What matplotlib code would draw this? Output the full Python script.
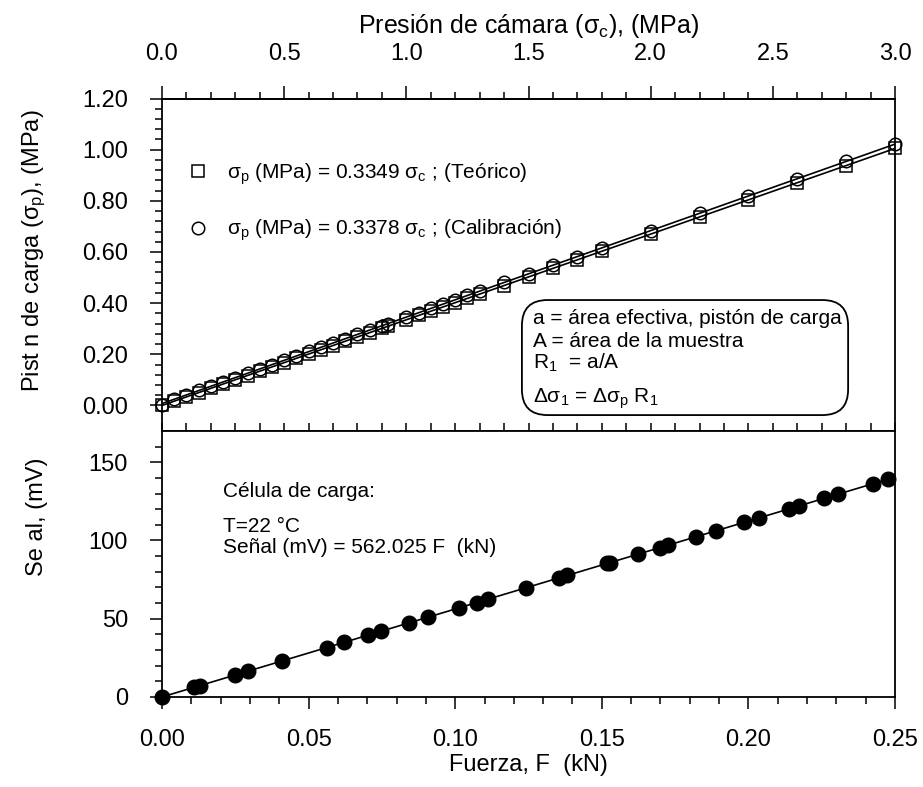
import matplotlib.pyplot as plt
import numpy as np
from matplotlib.patches import FancyBboxPatch
from matplotlib.ticker import MultipleLocator, FixedLocator, FormatStrFormatter

plt.rcParams['font.family'] = ['Liberation Sans', 'DejaVu Sans']
plt.rcParams['mathtext.default'] = 'regular'

# presion de camara (MPa)
sigma_c = np.array([0.0, 0.05, 0.10, 0.15, 0.20, 0.25, 0.30, 0.35, 0.40, 0.45,
                    0.50, 0.55, 0.60, 0.65, 0.70, 0.75, 0.80, 0.85, 0.90, 0.925,
                    1.00, 1.05, 1.10, 1.15, 1.20, 1.25, 1.30, 1.40, 1.50, 1.60,
                    1.70, 1.80, 2.00, 2.20, 2.40, 2.60, 2.80, 3.00])
# piston de carga, teorico
sigma_p_teo = np.array([0.000, 0.017, 0.034, 0.050, 0.067, 0.084, 0.100, 0.117, 0.134, 0.151,
                        0.167, 0.184, 0.201, 0.218, 0.234, 0.251, 0.268, 0.285, 0.301, 0.310,
                        0.335, 0.352, 0.368, 0.385, 0.402, 0.419, 0.435, 0.469, 0.502, 0.536,
                        0.569, 0.603, 0.670, 0.737, 0.804, 0.871, 0.938, 1.005])
# piston de carga, calibracion
sigma_p_cal = np.array([0.000, 0.025, 0.042, 0.059, 0.076, 0.092, 0.109, 0.126, 0.143, 0.160,
                        0.177, 0.194, 0.211, 0.228, 0.244, 0.261, 0.278, 0.295, 0.312, 0.320,
                        0.346, 0.363, 0.380, 0.396, 0.413, 0.430, 0.447, 0.481, 0.515, 0.548,
                        0.582, 0.616, 0.684, 0.751, 0.819, 0.886, 0.954, 1.021])

# celula de carga
fuerza = np.array([0.0, 0.0110, 0.0130, 0.0249, 0.0292, 0.0410, 0.0562, 0.0622, 0.0702,
                   0.0746, 0.0842, 0.0906, 0.1012, 0.1073, 0.1111, 0.1240, 0.1354, 0.1382,
                   0.1519, 0.1528, 0.1625, 0.1699, 0.1727, 0.1820, 0.1889, 0.1986, 0.2037,
                   0.2140, 0.2173, 0.2258, 0.2307, 0.2426, 0.2475])
senal = np.array([0.0, 6.2, 7.3, 14.0, 16.4, 23.0, 31.6, 35.0, 39.5,
                  41.9, 47.3, 50.9, 56.9, 60.3, 62.4, 69.7, 76.1, 77.7,
                  85.4, 85.9, 91.3, 95.5, 97.1, 102.3, 106.2, 111.6, 114.5,
                  120.3, 122.1, 126.9, 129.7, 136.3, 139.1])

fig = plt.figure(figsize=(9.23, 7.87), dpi=100)
ax1 = fig.add_axes([0.1755, 0.4523, 0.7942, 0.4225])
ax2 = fig.add_axes([0.1755, 0.1144, 0.7942, 0.3380])

# ---- top panel ----
xl = np.array([0.0, 3.0])
for yy in (sigma_p_teo, sigma_p_cal):
    k = np.polyfit(sigma_c, yy, 1)
    ax1.plot(xl, np.polyval(k, xl), color='black', lw=1.2)
sq, = ax1.plot(sigma_c, sigma_p_teo, 's', ms=8.6, mfc='none', mec='black', mew=1.1,
               clip_on=False, label=r'σ$_p$ (MPa) = 0.3349 σ$_c$ ; (Teórico)')
ci, = ax1.plot(sigma_c, sigma_p_cal, 'o', ms=9, mfc='none', mec='black', mew=1.1,
               clip_on=False, label=r'σ$_p$ (MPa) = 0.3378 σ$_c$ ; (Calibración)')

ax1.set_xlim(0, 3.0)
ax1.set_ylim(-0.10, 1.20)
ax1.xaxis.set_major_locator(MultipleLocator(0.1))
ax1.tick_params(axis='x', which='both', direction='in', bottom=True, top=False,
                labelbottom=False, length=5.5, width=1.1)
ax1.yaxis.set_major_locator(FixedLocator(np.arange(0, 1.21, 0.2)))
ax1.yaxis.set_minor_locator(FixedLocator(np.arange(0, 1.21, 0.04)))
ax1.yaxis.set_major_formatter(FormatStrFormatter('%.2f'))
ax1.tick_params(axis='y', which='major', direction='out', length=8.6, width=1.1,
                labelsize=17, pad=15.8)
ax1.tick_params(axis='y', which='minor', direction='out', length=5, width=1.1)

sec = ax1.secondary_xaxis('top')
sec.xaxis.set_major_locator(MultipleLocator(0.5))
sec.xaxis.set_minor_locator(MultipleLocator(0.1))
sec.xaxis.set_major_formatter(FormatStrFormatter('%.1f'))
sec.tick_params(which='major', direction='out', length=9.4, width=1.1, labelsize=17, pad=15)
sec.tick_params(which='minor', direction='out', length=5, width=1.1)
sec.set_xlabel(r'Presión de cámara (σ$_c$), (MPa)', fontsize=18, labelpad=7)

ax1.set_ylabel(r'Pist n de carga (σ$_p$), (MPa)', fontsize=17)
ax1.yaxis.set_label_coords(-0.156, 0.541)

ax1.legend(handles=[sq, ci], loc='upper left', bbox_to_anchor=(0.035, 0.812),
           frameon=False, fontsize=15, handlelength=1.0, handletextpad=0.9,
           labelspacing=1.5, borderpad=0, borderaxespad=0)

box = FancyBboxPatch((0.491, 0.048), 0.445, 0.346,
                     boxstyle='round,pad=0,rounding_size=0.035', transform=ax1.transAxes,
                     fc='white', ec='black', lw=1.3, mutation_aspect=733 / 332.5)
ax1.add_patch(box)
box_lines = ['a = área efectiva, pistón de carga', 'A = área de la muestra',
             r'R$_1$  = a/A', r'Δσ$_1$ = Δσ$_p$ R$_1$']
box_y = [0.322, 0.253, 0.186, 0.084]
for s, yy in zip(box_lines, box_y):
    ax1.text(0.506, yy, s, transform=ax1.transAxes, fontsize=15, va='baseline', ha='left')

# ---- bottom panel ----
fl = np.array([0.0, 0.25])
k2 = np.polyfit(fuerza, senal, 1)
ax2.plot(fl, np.polyval(k2, fl), color='black', lw=1.2)
ax2.plot(fuerza, senal, 'o', ms=10.5, color='black', clip_on=False)

ax2.set_xlim(0, 0.25)
ax2.set_ylim(0, 170)
ax2.xaxis.set_major_locator(MultipleLocator(0.05))
ax2.xaxis.set_minor_locator(MultipleLocator(0.01))
ax2.xaxis.set_major_formatter(FormatStrFormatter('%.2f'))
ax2.yaxis.set_major_locator(FixedLocator([0, 50, 100, 150]))
ax2.yaxis.set_minor_locator(FixedLocator(np.arange(0, 161, 10)))
ax2.tick_params(which='major', direction='out', length=8.6, width=1.1, labelsize=17, pad=15.8)
ax2.tick_params(which='minor', direction='out', length=5, width=1.1)
ax2.tick_params(axis='x', which='major', pad=14.4)
ax2.set_xlabel('Fuerza, F  (kN)', fontsize=17, labelpad=2)
ax2.set_ylabel('Se al, (mV)', fontsize=17)
ax2.yaxis.set_label_coords(-0.156, 0.677)

ax2.text(0.083, 0.752, 'Célula de carga:', transform=ax2.transAxes, fontsize=15, va='baseline')
ax2.text(0.083, 0.620, 'T=22 °C', transform=ax2.transAxes, fontsize=15, va='baseline')
ax2.text(0.083, 0.541, 'Señal (mV) = 562.025 F  (kN)', transform=ax2.transAxes,
         fontsize=15, va='baseline')

for ax in (ax1, ax2):
    for sp in ax.spines.values():
        sp.set_linewidth(1.3)
sec.spines['top'].set_linewidth(1.3)

fig.savefig('out.png', dpi=100)
